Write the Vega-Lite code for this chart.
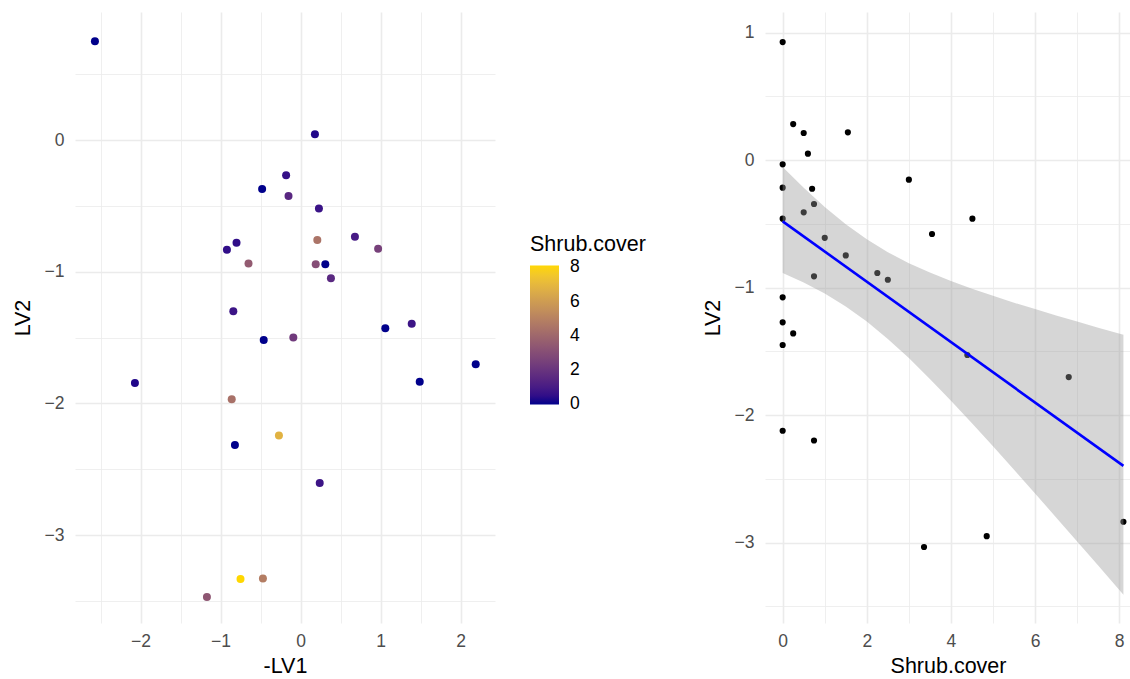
{
  "$schema": "https://vega.github.io/schema/vega-lite/v6.json",
  "padding": {"left": 12, "top": 12, "right": 0, "bottom": 0},
  "background": "white",
  "config": {
    "font": "Liberation Sans",
    "view": {"stroke": null},
    "axis": {
      "domain": false,
      "ticks": false,
      "tickSize": 0,
      "labelFontSize": 17.5,
      "labelColor": "#4D4D4D",
      "titleFontSize": 21.5,
      "titleFontWeight": "normal",
      "titleColor": "#000000",
      "gridColor": "#EBEBEB",
      "format": "d"
    }
  },
  "datasets": {
    "left": [
      {"negLV1": -2.57, "LV2": 0.75, "Shrub": 0},
      {"negLV1": 0.18, "LV2": 0.043, "Shrub": 0.25},
      {"negLV1": -0.18, "LV2": -0.268, "Shrub": 0.6},
      {"negLV1": -0.48, "LV2": -0.372, "Shrub": 0},
      {"negLV1": -0.15, "LV2": -0.425, "Shrub": 1.5},
      {"negLV1": 0.23, "LV2": -0.519, "Shrub": 0.7},
      {"negLV1": 0.21, "LV2": -0.759, "Shrub": 4.51},
      {"negLV1": 0.68, "LV2": -0.734, "Shrub": 1.0},
      {"negLV1": 0.97, "LV2": -0.825, "Shrub": 2.5},
      {"negLV1": -0.92, "LV2": -0.833, "Shrub": 0.5},
      {"negLV1": -0.8, "LV2": -0.78, "Shrub": 0.5},
      {"negLV1": -0.65, "LV2": -0.937, "Shrub": 3.55},
      {"negLV1": 0.19, "LV2": -0.944, "Shrub": 3.0},
      {"negLV1": 0.31, "LV2": -0.944, "Shrub": 0},
      {"negLV1": 0.38, "LV2": -1.05, "Shrub": 1.55},
      {"negLV1": -0.84, "LV2": -1.3, "Shrub": 0.745},
      {"negLV1": 1.06, "LV2": -1.43, "Shrub": 0},
      {"negLV1": 1.39, "LV2": -1.395, "Shrub": 0.745},
      {"negLV1": -0.46, "LV2": -1.519, "Shrub": 0},
      {"negLV1": -0.09, "LV2": -1.5, "Shrub": 2.25},
      {"negLV1": -2.07, "LV2": -1.845, "Shrub": 0.25},
      {"negLV1": 1.49, "LV2": -1.835, "Shrub": 0},
      {"negLV1": 2.19, "LV2": -1.703, "Shrub": 0},
      {"negLV1": -0.86, "LV2": -1.969, "Shrub": 4.39},
      {"negLV1": -0.27, "LV2": -2.243, "Shrub": 6.8},
      {"negLV1": -0.82, "LV2": -2.316, "Shrub": 0},
      {"negLV1": 0.24, "LV2": -2.605, "Shrub": 0.745},
      {"negLV1": -0.75, "LV2": -3.333, "Shrub": 8.1},
      {"negLV1": -0.47, "LV2": -3.33, "Shrub": 4.85},
      {"negLV1": -1.17, "LV2": -3.47, "Shrub": 3.36}
    ],
    "right": [
      {"Shrub": 0, "LV2": 0.925},
      {"Shrub": 0.25, "LV2": 0.282},
      {"Shrub": 0.5, "LV2": 0.212},
      {"Shrub": 1.55, "LV2": 0.217},
      {"Shrub": 0.6, "LV2": 0.05},
      {"Shrub": 0, "LV2": -0.034},
      {"Shrub": 0, "LV2": -0.217},
      {"Shrub": 0.7, "LV2": -0.225},
      {"Shrub": 3.0, "LV2": -0.154},
      {"Shrub": 0.745, "LV2": -0.345},
      {"Shrub": 0.5, "LV2": -0.41},
      {"Shrub": 0, "LV2": -0.46},
      {"Shrub": 4.51, "LV2": -0.46},
      {"Shrub": 3.55, "LV2": -0.58},
      {"Shrub": 1.0, "LV2": -0.61},
      {"Shrub": 1.5, "LV2": -0.748},
      {"Shrub": 0.745, "LV2": -0.912},
      {"Shrub": 2.25, "LV2": -0.886},
      {"Shrub": 2.5, "LV2": -0.939},
      {"Shrub": 0, "LV2": -1.077},
      {"Shrub": 0, "LV2": -1.273},
      {"Shrub": 0.25, "LV2": -1.36},
      {"Shrub": 0, "LV2": -1.451},
      {"Shrub": 4.39, "LV2": -1.529},
      {"Shrub": 6.8, "LV2": -1.702},
      {"Shrub": 0, "LV2": -2.123},
      {"Shrub": 0.745, "LV2": -2.2},
      {"Shrub": 3.36, "LV2": -3.035},
      {"Shrub": 4.85, "LV2": -2.95},
      {"Shrub": 8.1, "LV2": -2.837}
    ],
    "band": [
      {"Shrub": 0, "lower": -0.886, "upper": -0.054},
      {"Shrub": 0.5, "lower": -0.961, "upper": -0.217},
      {"Shrub": 1, "lower": -1.046, "upper": -0.368},
      {"Shrub": 1.5, "lower": -1.148, "upper": -0.504},
      {"Shrub": 2, "lower": -1.266, "upper": -0.622},
      {"Shrub": 2.5, "lower": -1.403, "upper": -0.723},
      {"Shrub": 3, "lower": -1.553, "upper": -0.809},
      {"Shrub": 3.5, "lower": -1.717, "upper": -0.883},
      {"Shrub": 4, "lower": -1.887, "upper": -0.949},
      {"Shrub": 4.5, "lower": -2.065, "upper": -1.009},
      {"Shrub": 5, "lower": -2.245, "upper": -1.065},
      {"Shrub": 5.5, "lower": -2.429, "upper": -1.119},
      {"Shrub": 6, "lower": -2.615, "upper": -1.169},
      {"Shrub": 6.5, "lower": -2.803, "upper": -1.219},
      {"Shrub": 7, "lower": -2.991, "upper": -1.267},
      {"Shrub": 7.5, "lower": -3.181, "upper": -1.315},
      {"Shrub": 8.1, "lower": -3.41, "upper": -1.37}
    ]
  },
  "spacing": 207,
  "hconcat": [
    {
      "width": 420,
      "height": 611,
      "data": {"name": "left"},
      "mark": {"type": "circle", "size": 64, "opacity": 1},
      "encoding": {
        "x": {
          "field": "negLV1", "type": "quantitative", "title": "-LV1",
          "scale": {"domain": [-2.819, 2.431], "nice": false, "zero": false},
          "axis": {
            "values": [-2.5, -2, -1.5, -1, -0.5, 0, 0.5, 1, 1.5, 2],
            "labelExpr": "datum.value % 1 === 0 ? datum.label : ''",
            "gridWidth": {"condition": {"test": "datum.value % 1 === 0", "value": 1.6}, "value": 0.8},
            "labelPadding": 9,
            "titlePadding": 6
          }
        },
        "y": {
          "field": "LV2", "type": "quantitative", "title": "LV2",
          "scale": {"domain": [-3.667, 0.972], "nice": false, "zero": false},
          "axis": {
            "values": [-3.5, -3, -2.5, -2, -1.5, -1, -0.5, 0, 0.5],
            "labelExpr": "datum.value % 1 === 0 ? datum.label : ''",
            "gridWidth": {"condition": {"test": "datum.value % 1 === 0", "value": 1.6}, "value": 0.8},
            "labelPadding": 11,
            "titlePadding": 10
          }
        },
        "color": {
          "field": "Shrub", "type": "quantitative", "title": "Shrub.cover",
          "scale": {"domain": [0, 8.1], "range": ["#00008B", "#FFD700"], "interpolate": "lab"},
          "legend": {
            "orient": "none",
            "legendX": 455,
            "legendY": 222,
            "values": [0.0001, 2, 4, 6, 8],
            "format": "d",
            "gradientLength": 139,
            "gradientThickness": 29,
            "labelFontSize": 17.5,
            "labelColor": "#000000",
            "labelOffset": 11,
            "labelOverlap": false,
            "titleFontSize": 21.5,
            "titleFontWeight": "normal",
            "titleColor": "#000000",
            "titlePadding": 10
          }
        }
      }
    },
    {
      "width": 366,
      "height": 611,
      "layer": [
        {
          "data": {"name": "right"},
          "mark": {"type": "circle", "size": 38, "opacity": 1, "color": "#000000"},
          "encoding": {
            "x": {
              "field": "Shrub", "type": "quantitative", "title": "Shrub.cover",
              "scale": {"domain": [-0.42, 8.28], "nice": false, "zero": false},
              "axis": {
                "values": [0, 1, 2, 3, 4, 5, 6, 7, 8],
                "labelExpr": "datum.value % 2 === 0 ? datum.label : ''",
                "gridWidth": {"condition": {"test": "datum.value % 2 === 0", "value": 1.6}, "value": 0.8},
                "labelPadding": 9,
                "titlePadding": 6
              }
            },
            "y": {
              "field": "LV2", "type": "quantitative", "title": "LV2",
              "scale": {"domain": [-3.631, 1.161], "nice": false, "zero": false},
              "axis": {
                "values": [-3.5, -3, -2.5, -2, -1.5, -1, -0.5, 0, 0.5, 1],
                "labelExpr": "datum.value % 1 === 0 ? datum.label : ''",
                "gridWidth": {"condition": {"test": "datum.value % 1 === 0", "value": 1.6}, "value": 0.8},
                "labelPadding": 11,
                "titlePadding": 10
              }
            }
          }
        },
        {
          "data": {"name": "band"},
          "mark": {"type": "area", "color": "#999999", "opacity": 0.4},
          "encoding": {
            "x": {"field": "Shrub", "type": "quantitative"},
            "y": {"field": "lower", "type": "quantitative"},
            "y2": {"field": "upper"}
          }
        },
        {
          "data": {"name": "right"},
          "transform": [{"regression": "LV2", "on": "Shrub", "extent": [0, 8.1]}],
          "mark": {"type": "line", "color": "#0000FF", "strokeWidth": 2.6},
          "encoding": {
            "x": {"field": "Shrub", "type": "quantitative"},
            "y": {"field": "LV2", "type": "quantitative"}
          }
        }
      ]
    }
  ]
}
